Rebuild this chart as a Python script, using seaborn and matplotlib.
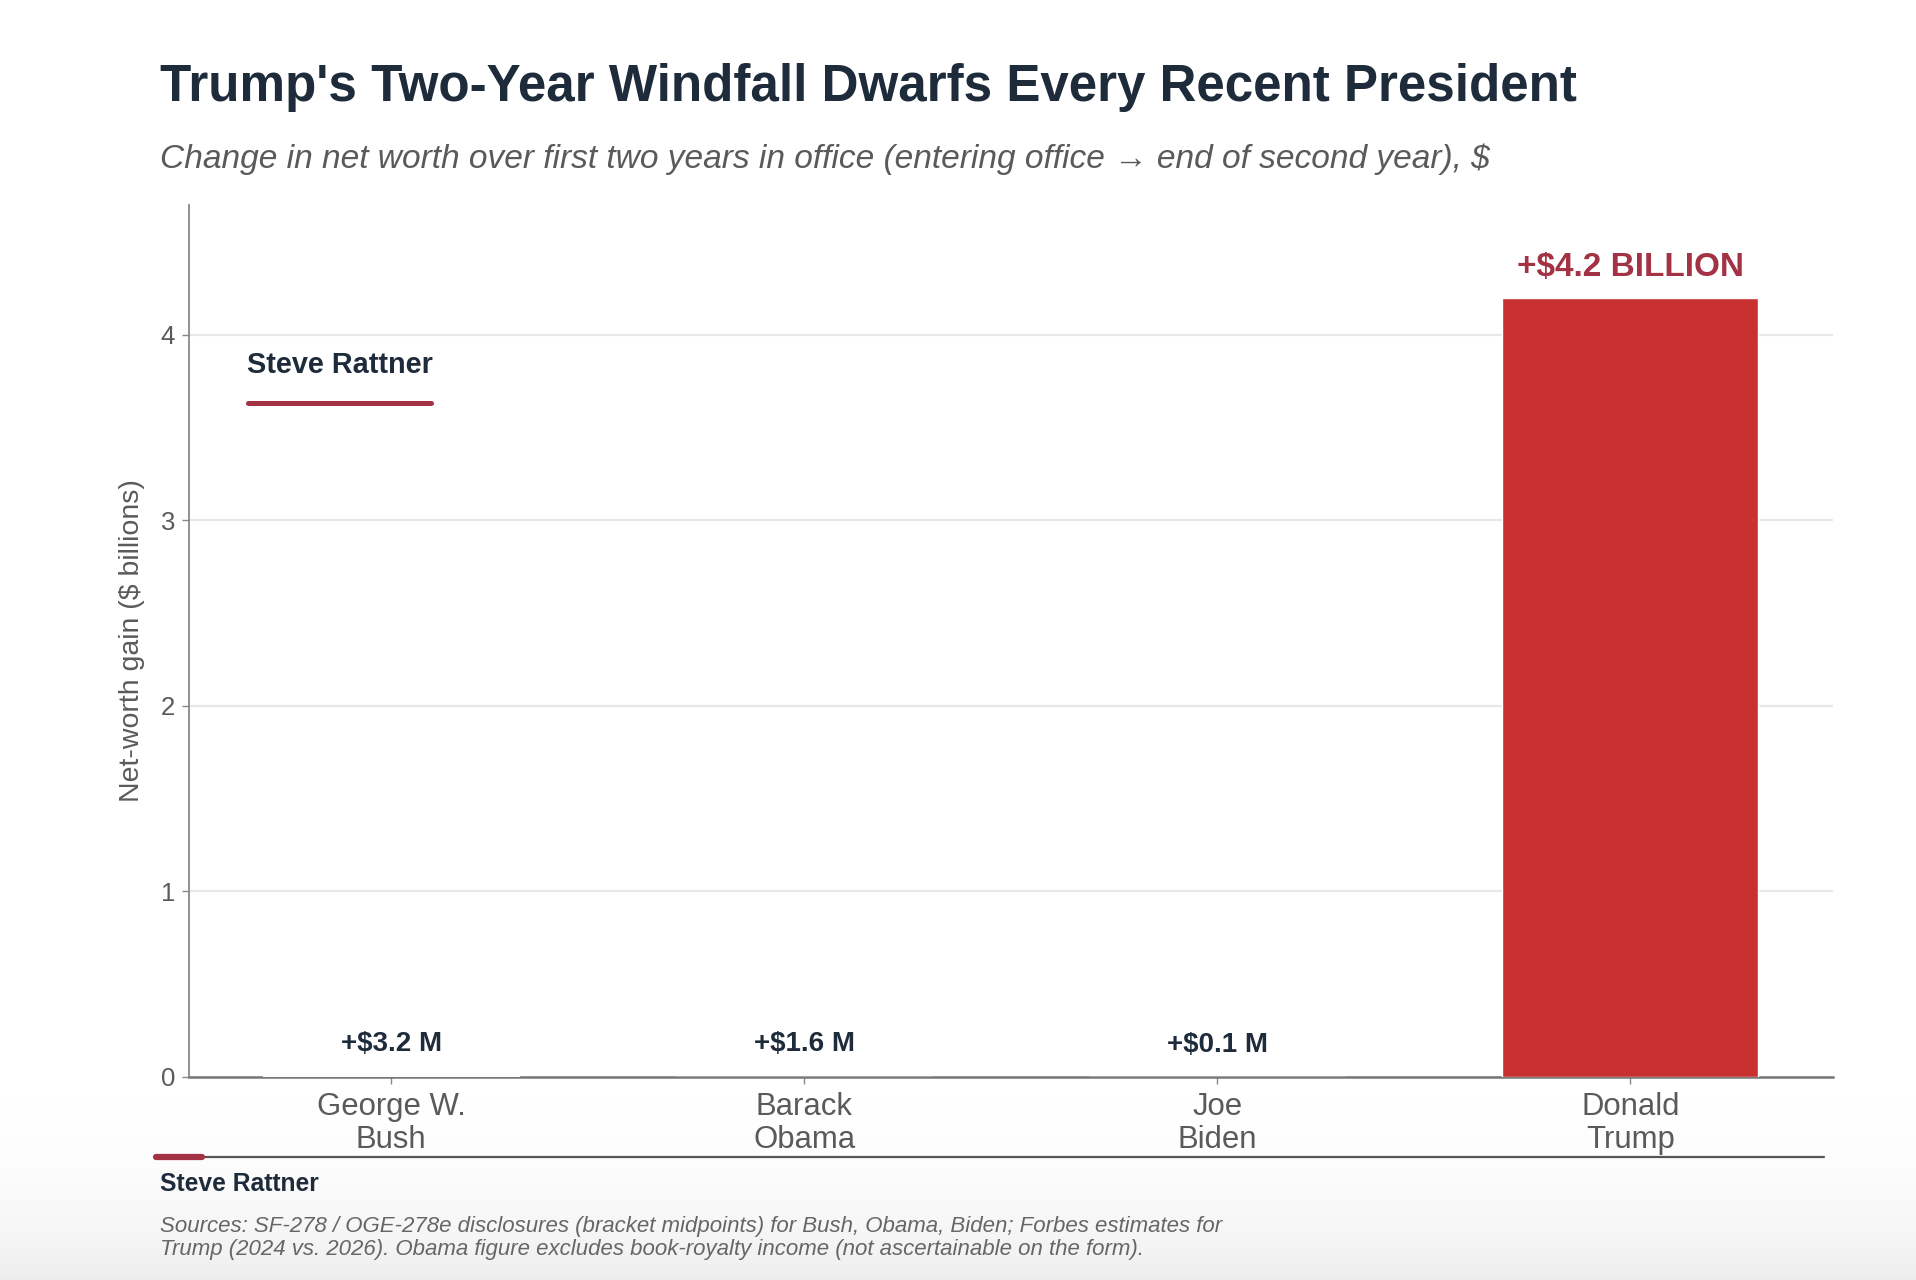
import numpy as np
import pandas as pd
import matplotlib
matplotlib.use("Agg")
import matplotlib.pyplot as plt
import seaborn as sns

# chart data
presidents = ["George W.\nBush", "Barack\nObama", "Joe\nBiden", "Donald\nTrump"]
gain_billions = [0.0032, 0.0016, 0.0001, 4.2]
value_labels = ["+$3.2 M", "+$1.6 M", "+$0.1 M", "+$4.2 BILLION"]
y_ticks = [0, 1, 2, 3, 4]

df = pd.DataFrame({"president": presidents, "gain": gain_billions})

sns.set_theme(style="white")
plt.rcParams["font.family"] = ["Liberation Sans", "DejaVu Sans"]

navy = "#1e2b3a"
red = "#c93030"
maroon = "#a33245"
grey = "#5a5a5a"

fig = plt.figure(figsize=(19.16, 12.80), dpi=100)
fig.patch.set_facecolor("white")

# faint shading at the very bottom, like the screenshot
bg = fig.add_axes([0, 0, 1, 0.2], zorder=-10)
grad = np.linspace(0, 1, 200) ** 3
bg.imshow(grad[:, None], aspect="auto", cmap="Greys", vmin=0, vmax=7,
          extent=[0, 1, 0, 1], origin="upper")
bg.axis("off")

ax = fig.add_axes([0.0986, 0.1586, 0.858, 0.6812])
ax.set_facecolor("white")
ax.patch.set_alpha(0)
sns.barplot(data=df, x="president", y="gain", color=red, width=0.62,
            saturation=1, ax=ax, zorder=3)

ax.set_ylim(0, 4.7)
ax.set_xlim(-0.49, 3.49)
ax.set_yticks(y_ticks)
ax.yaxis.grid(True, color="#e8e8e8", linewidth=1.6, zorder=0)
ax.xaxis.grid(False)
ax.set_axisbelow(True)

for s in ["top", "right"]:
    ax.spines[s].set_visible(False)
ax.spines["left"].set_color("#888888")
ax.spines["left"].set_linewidth(1.3)
ax.spines["bottom"].set_color("#777777")
ax.spines["bottom"].set_linewidth(1.8)

ax.tick_params(axis="y", left=True, length=5, width=1, color="#888888",
               labelsize=18.5, labelcolor=grey, pad=5)
ax.tick_params(axis="x", bottom=True, length=5, width=1, color="#888888",
               labelsize=22.4, labelcolor=grey, pad=6)
for lab in ax.get_xticklabels():
    lab.set_linespacing(1.14)

ax.set_xlabel("")
ax.set_ylabel("Net-worth gain ($ billions)", fontsize=20.5, color=grey, labelpad=11)

# value labels above bars
for i, (v, txt) in enumerate(zip(gain_billions, value_labels)):
    is_big = i == len(gain_billions) - 1
    ax.annotate(txt, (i, v), xytext=(0, 11 if is_big else 14), textcoords="offset points",
                ha="center", va="bottom", fontsize=24 if is_big else 20,
                fontweight="bold", color=maroon if is_big else navy)

# author tag inside the plot
ax.text(247, 1280 - 365, "Steve Rattner", transform=None, fontsize=20.8,
        fontweight="bold", color=navy, ha="left", va="center")
fig.add_artist(plt.Line2D([248 / 1916, 431 / 1916], [1 - 403 / 1280, 1 - 403 / 1280],
                          color=maroon, linewidth=3.6, solid_capstyle="round"))

# title and subtitle
fig.text(160 / 1916, 1 - 88 / 1280, "Trump's Two-Year Windfall Dwarfs Every Recent President",
         fontsize=36.8, fontweight="bold", color=navy, ha="left", va="center")
fig.text(160 / 1916, 1 - 159 / 1280,
         "Change in net worth over first two years in office (entering office \u2192 end of second year), $",
         fontsize=24.1, fontstyle="italic", color=grey, ha="left", va="center")

# footer
fig.add_artist(plt.Line2D([156 / 1916, 1824 / 1916], [1 - 1157 / 1280, 1 - 1157 / 1280],
                          color="#555555", linewidth=1.6))
fig.add_artist(plt.Line2D([156 / 1916, 202 / 1916], [1 - 1157 / 1280, 1 - 1157 / 1280],
                          color=maroon, linewidth=4.5))
fig.text(160 / 1916, 1 - 1184 / 1280, "Steve Rattner", fontsize=17.7, fontweight="bold",
         color=navy, ha="left", va="center")
fig.text(160 / 1916, 1 - 1238 / 1280,
         "Sources: SF-278 / OGE-278e disclosures (bracket midpoints) for Bush, Obama, Biden; Forbes estimates for\n"
         "Trump (2024 vs. 2026). Obama figure excludes book-royalty income (not ascertainable on the form).",
         fontsize=16, fontstyle="italic", color="#666666", ha="left", va="center",
         linespacing=1.15)

fig.savefig("out.png", dpi=100, facecolor="white")
